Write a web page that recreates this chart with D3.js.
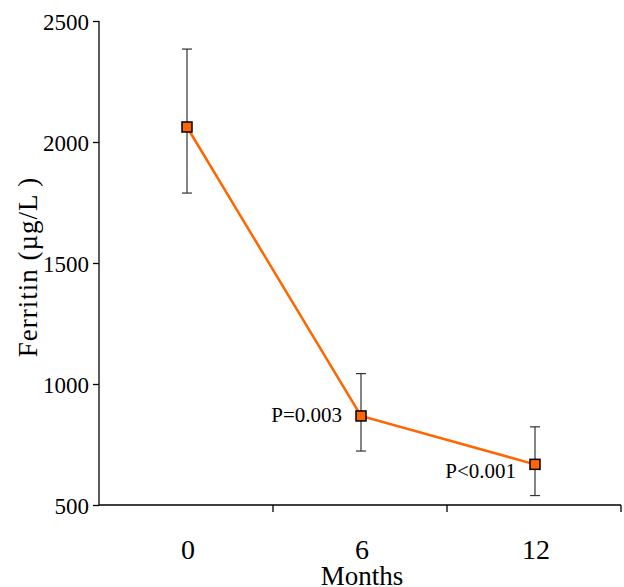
<!DOCTYPE html>
<meta charset="utf-8">
<style>
body { margin: 0; background: #fff; }
text { font-family: "Liberation Serif", "Times New Roman", serif; fill: #000; }
</style>
<svg></svg>
<script src="https://d3js.org/d3.v7.min.js"></script>
<script>

var months = ["0", "6", "12"];
var ferritin = [2062, 868, 668];
var errHigh = [2384, 1043, 823];
var errLow = [1789, 723, 539];
var pLabels = ["", "P=0.003", "P<0.001"];
var yTicks = [500, 1000, 1500, 2000, 2500];

var width = 624, height = 587;
var margin = {top: 21, right: 3, bottom: 82, left: 99};

var svg = d3.select("svg")
    .attr("width", width)
    .attr("height", height);

var x = d3.scaleBand()
    .domain(months)
    .range([margin.left, width - margin.right]);

var y = d3.scaleLinear()
    .domain([500, 2500])
    .range([height - margin.bottom, margin.top]);

var cx = function(d, i) { return x(months[i]) + x.bandwidth() / 2 + 1; };

// y axis
var yAxis = svg.append("g")
    .attr("transform", "translate(" + margin.left + ",0)")
    .call(d3.axisLeft(y).tickValues(yTicks).tickSize(6).tickPadding(4).tickFormat(d3.format("d")));
yAxis.selectAll("text").style("font-size", "23px").attr("dy", "0.35em");
yAxis.select(".domain").attr("d", "M0," + y(500) + "V" + y(2500)).attr("stroke-width", 1.3);
yAxis.selectAll(".tick line").attr("stroke-width", 1.3);

// x axis: ticks at band edges, labels at centres
var xg = svg.append("g")
    .attr("transform", "translate(0," + y(500) + ")");
xg.append("line")
    .attr("x1", margin.left).attr("x2", width - margin.right)
    .attr("stroke", "#000").attr("stroke-width", 1.3);
var edges = months.map(function(m) { return x(m); }).concat([x.range()[1]]);
xg.selectAll(".xt")
    .data(edges.slice(1))
    .enter().append("line")
    .attr("x1", function(d) { return d; }).attr("x2", function(d) { return d; })
    .attr("y1", 0).attr("y2", 7)
    .attr("stroke", "#000").attr("stroke-width", 1.3);
xg.selectAll(".xl")
    .data(months)
    .enter().append("text")
    .attr("x", function(d) { return x(d) + x.bandwidth() / 2 + 2; })
    .attr("y", 54)
    .attr("text-anchor", "middle")
    .style("font-size", "28px")
    .text(function(d) { return d; });

svg.append("text")
    .attr("x", x("6") + x.bandwidth() / 2 + 2)
    .attr("y", 585)
    .attr("text-anchor", "middle")
    .style("font-size", "27px")
    .text("Months");

svg.append("text")
    .attr("transform", "translate(37," + 267 + ") rotate(-90)")
    .attr("text-anchor", "middle")
    .style("font-size", "27px")
    .style("letter-spacing", "1px")
    .text("Ferritin (µg/L )");

// error bars
var eb = svg.append("g");
ferritin.forEach(function(v, i) {
  var px = cx(v, i);
  eb.append("line")
      .attr("x1", px).attr("x2", px)
      .attr("y1", y(errHigh[i])).attr("y2", y(errLow[i]))
      .attr("stroke", "#333").attr("stroke-width", 1.2);
  [errHigh[i], errLow[i]].forEach(function(e) {
    eb.append("line")
        .attr("x1", px - 5).attr("x2", px + 5)
        .attr("y1", y(e)).attr("y2", y(e))
        .attr("stroke", "#333").attr("stroke-width", 1.2);
  });
});

// line
svg.append("path")
    .datum(ferritin)
    .attr("fill", "none")
    .attr("stroke", "#ff6600")
    .attr("stroke-width", 2.5)
    .attr("d", d3.line().x(cx).y(function(d) { return y(d); }));

// markers
svg.selectAll(".pt")
    .data(ferritin)
    .enter().append("rect")
    .attr("x", function(d, i) { return cx(d, i) - 5; })
    .attr("y", function(d) { return y(d) - 5; })
    .attr("width", 10).attr("height", 10)
    .attr("fill", "#ff6600")
    .attr("stroke", "#000")
    .attr("stroke-width", 1.5);

// p values (second one sits a little lower under its marker)
var pDy = [0, 6, 14];
svg.selectAll(".pl")
    .data(ferritin)
    .enter().append("text")
    .attr("x", function(d, i) { return cx(d, i) - 19; })
    .attr("y", function(d, i) { return y(d) + pDy[i]; })
    .attr("text-anchor", "end")
    .style("font-size", "21px")
    .text(function(d, i) { return pLabels[i]; });

</script>
